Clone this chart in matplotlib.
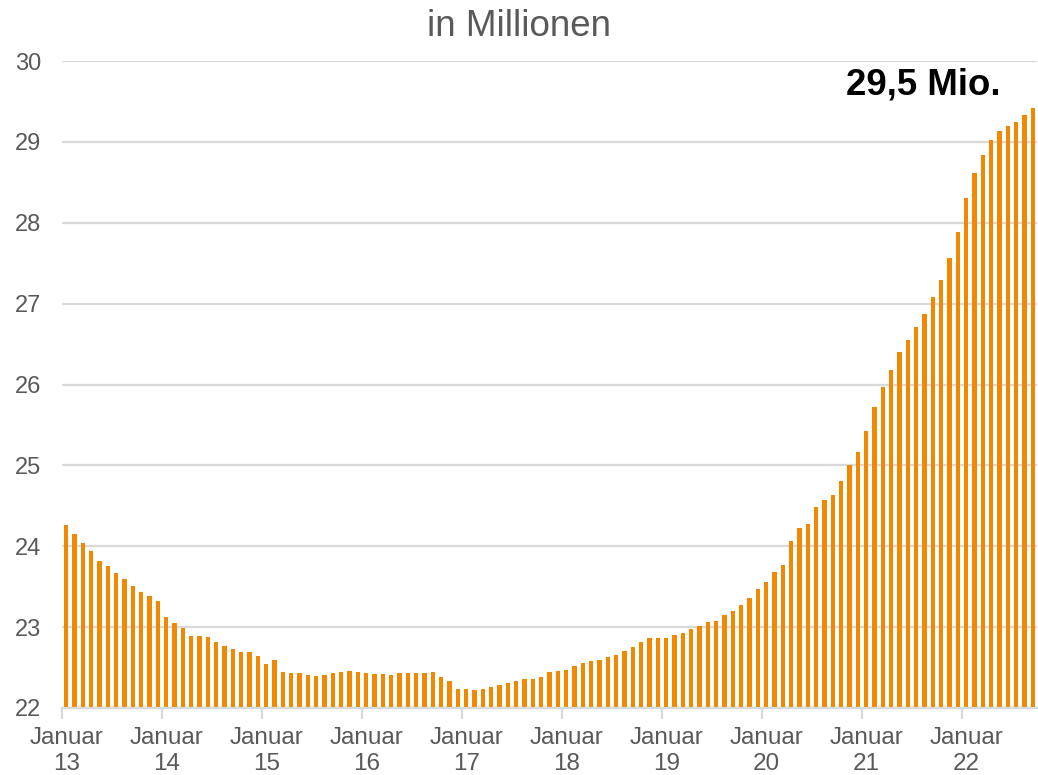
import matplotlib.pyplot as plt
import numpy as np

plt.rcParams['font.family'] = ['Liberation Sans', 'DejaVu Sans']

# Monatswerte Januar 2013 bis September 2022, in Millionen
werte = [
    24.26, 24.15, 24.04, 23.94, 23.82, 23.75, 23.67, 23.60, 23.51, 23.43, 23.38, 23.32,  # 2013
    23.13, 23.05, 22.99, 22.89, 22.89, 22.88, 22.82, 22.77, 22.73, 22.69, 22.69, 22.64,  # 2014
    22.54, 22.59, 22.44, 22.43, 22.43, 22.41, 22.40, 22.41, 22.43, 22.45, 22.46, 22.44,  # 2015
    22.43, 22.42, 22.42, 22.41, 22.43, 22.43, 22.43, 22.43, 22.45, 22.38, 22.33, 22.24,  # 2016
    22.23, 22.22, 22.23, 22.26, 22.28, 22.31, 22.33, 22.36, 22.36, 22.38, 22.45, 22.46,  # 2017
    22.47, 22.52, 22.56, 22.58, 22.59, 22.63, 22.66, 22.70, 22.76, 22.81, 22.86, 22.87,  # 2018
    22.87, 22.90, 22.93, 22.98, 23.02, 23.06, 23.08, 23.15, 23.20, 23.27, 23.36, 23.47,  # 2019
    23.56, 23.68, 23.77, 24.06, 24.23, 24.27, 24.48, 24.57, 24.63, 24.81, 25.00, 25.17,  # 2020
    25.43, 25.72, 25.97, 26.18, 26.40, 26.55, 26.71, 26.87, 27.08, 27.29, 27.57, 27.88,  # 2021
    28.31, 28.62, 28.84, 29.02, 29.14, 29.20, 29.25, 29.33, 29.42,                       # 2022
]
jahre = ["13", "14", "15", "16", "17", "18", "19", "20", "21", "22"]
y_ticks = [22, 23, 24, 25, 26, 27, 28, 29, 30]

orange = "#F18800"
grau = "#595959"
grid_grau = "#D9D9D9"

fig = plt.figure(figsize=(10.38, 7.75), dpi=100)
ax = fig.add_axes([62 / 1038, 1 - 708 / 775, 975 / 1038, 647 / 775])

x = np.arange(len(werte))
ax.bar(x, werte, width=0.5, color=orange, zorder=3)

ax.set_ylim(22, 30)
ax.set_xlim(-0.5, len(werte) - 0.5)

ax.set_yticks(y_ticks)
ax.set_yticklabels([str(v) for v in y_ticks])
ax.tick_params(axis='y', length=0, pad=15, labelsize=17, labelcolor=grau)
ax.grid(axis='y', color=grid_grau, lw=1.6, zorder=0)

# Striche an den Jahresgrenzen, Beschriftung mittig unter dem Januar-Balken
ax.set_xticks(np.arange(0, len(werte) + 1, 12) - 0.5)
ax.set_xticklabels([])
ax.tick_params(axis='x', which='major', length=8, width=1.6, color=grid_grau)
ax.set_xticks(np.arange(0, len(werte), 12), minor=True)
ax.set_xticklabels([f"Januar\n{j}" for j in jahre], minor=True)
ax.tick_params(axis='x', which='minor', length=0, pad=14, labelsize=17.5,
               labelcolor=grau)
for lbl in ax.get_xticklabels(minor=True):
    lbl.set_linespacing(1.2)

for s in ["top", "right", "left"]:
    ax.spines[s].set_visible(False)
ax.spines["bottom"].set_color(grid_grau)
ax.spines["bottom"].set_linewidth(1.6)
ax.spines["bottom"].set_zorder(4)

fig.text(519 / 1038, 1 - 26 / 775, "in Millionen", ha='center', va='center',
         fontsize=26.5, color=grau)
fig.text(1000 / 1038, 1 - 95 / 775, "29,5 Mio.", ha='right', va='baseline',
         fontsize=26.4, fontweight='bold', color='black')

fig.savefig("out.png", dpi=100)
